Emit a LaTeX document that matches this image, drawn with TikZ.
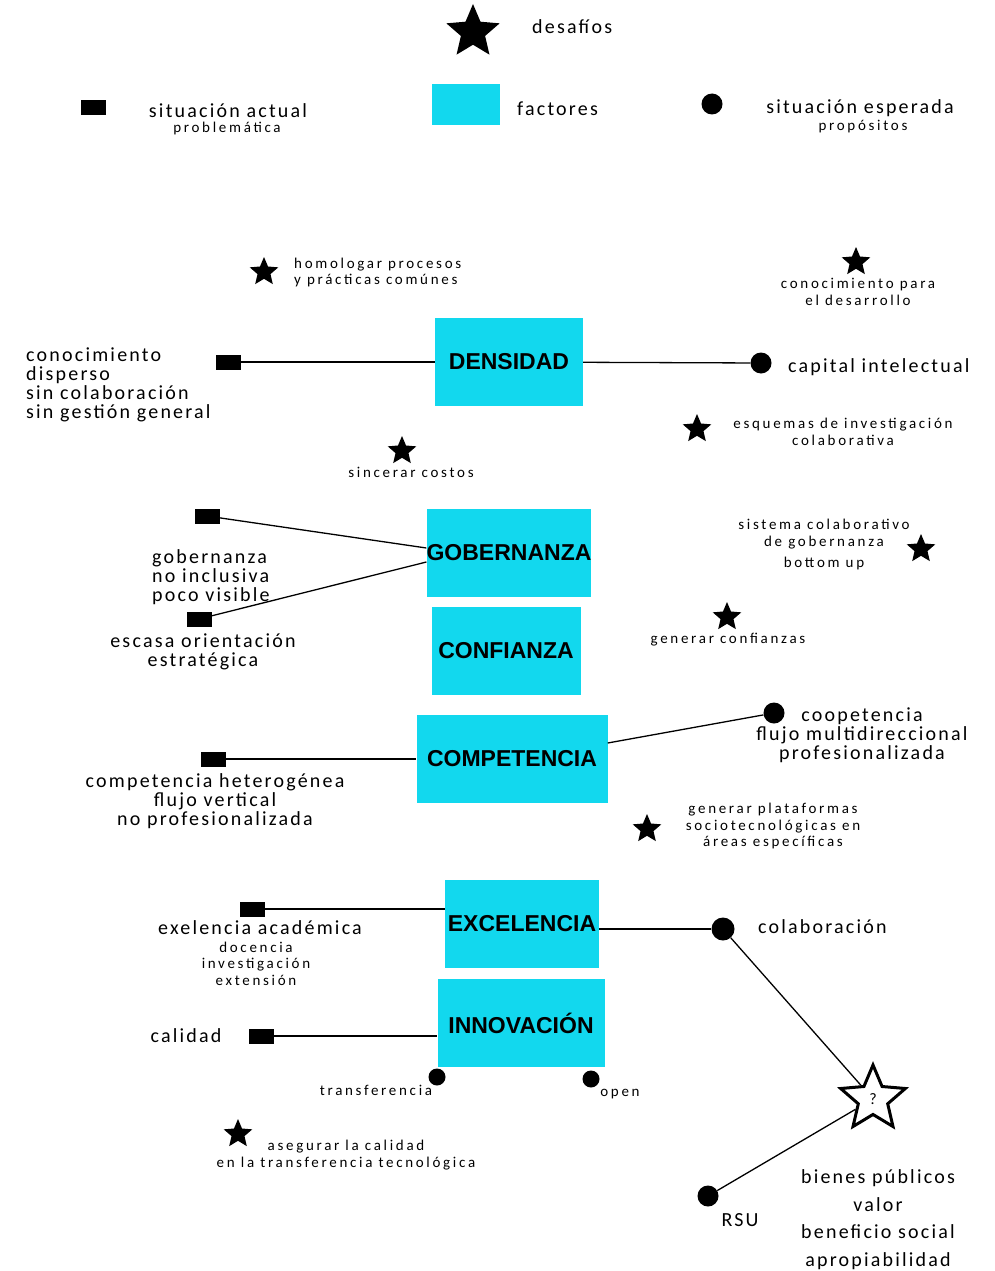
\documentclass[tikz,border=0pt]{standalone}
\usepackage{fontspec}
\setmainfont{Carlito}[LetterSpace=11]
\newfontfamily\factorfont{Liberation Sans}
\usetikzlibrary{shapes.geometric}
\definecolor{factorcyan}{RGB}{18,216,238}

\tikzset{
  factor/.style={fill=factorcyan, minimum height=88, inner sep=0,
    font=\factorfont\bfseries\fontsize{23}{23}\selectfont},
  actual/.style={fill=black, minimum width=25, minimum height=15, inner sep=0},
  esperada/.style={circle, fill=black, minimum size=21, inner sep=0},
  desafio/.style={star, star points=5, star point ratio=2.2, fill=black,
    minimum size=30, inner sep=0},
  big/.style={inner sep=0, font=\fontsize{20}{19}\selectfont},
  small/.style={inner sep=0, font=\fontsize{15}{16.5}\selectfont\addfontfeature{LetterSpace=18}},
  conn/.style={line width=1.3pt}
}

\begin{document}
\begin{tikzpicture}[x=1pt,y=-1pt]
  \useasboundingbox[fill=white] (0,0) rectangle (994,1271);

  % legend
  \node[desafio, minimum size=56] (lgStar) at (473,32) {};
  \node[big, anchor=west] (lgStarTxt) at (532,27) {desafíos};
  \node[actual] (lgSq) at (93,108) {};
  \node[big] (lgSqTxt) at (228,111) {situación actual};
  \node[small] (lgSqSub) at (227,129) {problemática};
  \node[fill=factorcyan, minimum width=68, minimum height=41, inner sep=0] (lgBox) at (466,105) {};
  \node[big, anchor=west] (lgBoxTxt) at (517,109) {factores};
  \node[esperada] (lgDot) at (712,104) {};
  \node[big] (lgDotTxt) at (860,108) {situación esperada};
  \node[small] (lgDotSub) at (863,127) {propósitos};

  % densidad
  \node[factor, minimum width=148] (dens) at (509,362) {DENSIDAD};
  \node[actual] (sqDens) at (228,362) {};
  \node[big, align=left, anchor=west] (txDens) at (26,384.5)
    {conocimiento\\disperso\\sin colaboración\\sin gestión general};
  \node[esperada] (dotDens) at (761,363) {};
  \node[big, anchor=west] (txCapital) at (788,367) {capital intelectual};
  \draw[conn] (sqDens) -- (dens);
  \draw[conn] (dens) -- (dotDens);
  \node[desafio] (stHomol) at (264,272) {};
  \node[small, align=left, anchor=west] (txHomol) at (294,272.5)
    {homologar procesos\\y prácticas comúnes};
  \node[desafio] (stConoc) at (856,262) {};
  \node[small, align=center] (txConoc) at (858,292) {conocimiento para\\el desarrollo};
  \node[desafio] (stEsq) at (697,429) {};
  \node[small, align=center] (txEsq) at (843,432)
    {esquemas de investigación\\colaborativa};
  \node[desafio] (stSinc) at (402,451) {};
  \node[small] (txSinc) at (411,472) {sincerar costos};

  % gobernanza
  \node[factor, minimum width=164] (gob) at (509,553) {GOBERNANZA};
  \node[actual] (sqGobA) at (207,516) {};
  \node[actual] (sqGobB) at (199,619) {};
  \draw[conn] (sqGobA) -- ([yshift=5pt]gob.west);
  \draw[conn] (sqGobB) -- ([yshift=-9pt]gob.west);
  \node[big, align=left, anchor=west] (txGob) at (152,577)
    {gobernanza\\no inclusiva\\poco visible};
  \node[big, align=center] (txEscasa) at (203,652) {escasa orientación\\estratégica};
  \node[small, align=center] (txSist) at (824,544.5)
    {sistema colaborativo\\de gobernanza\\[5pt]bottom up};
  \node[desafio] (stSist) at (921,549) {};
  \node[desafio] (stConf) at (727,617) {};
  \node[small] (txConf) at (728,640) {generar confianzas};

  % confianza
  \node[factor, minimum width=149] (conf) at (506,651) {CONFIANZA};

  % competencia
  \node[factor, minimum width=191] (comp) at (512,759) {COMPETENCIA};
  \node[actual] (sqComp) at (213,759) {};
  \draw[conn] (sqComp) -- (comp);
  \node[big, align=center] (txComp) at (215,801)
    {competencia heterogénea\\flujo vertical\\no profesionalizada};
  \node[esperada] (dotComp) at (774,713) {};
  \draw[conn] ([yshift=16pt]comp.east) -- (dotComp);
  \node[big, align=center] (txCoop) at (862,735)
    {coopetencia\\flujo multidireccional\\profesionalizada};
  \node[desafio] (stPlat) at (647,829) {};
  \node[small, align=center] (txPlat) at (773,826)
    {generar plataformas\\sociotecnológicas en\\áreas específicas};

  % excelencia
  \node[factor, minimum width=154] (exc) at (522,924) {EXCELENCIA};
  \node[actual] (sqExc) at (252,909) {};
  \draw[conn] (sqExc) -- ([yshift=15pt]exc.west);
  \node[big] (txExc) at (260,928) {exelencia académica};
  \node[small, align=center] (txDoc) at (256,963.5)
    {docencia\\investigación\\extensión};
  \node[esperada, minimum size=23] (dotExc) at (723,929) {};
  \draw[conn] ([yshift=-5pt]exc.east) -- (dotExc);
  \node[big, anchor=west] (txColab) at (758,927) {colaboración};

  % innovacion
  \node[factor, minimum width=167] (inn) at (521,1023) {INNOVACIÓN};
  \node[big] (txCal) at (186,1036) {calidad};
  \node[actual] (sqInn) at (261,1036) {};
  \draw[conn] (sqInn) -- ([yshift=-13pt]inn.west);
  \node[esperada, minimum size=17] (dotTrans) at (437,1077) {};
  \node[small] (txTrans) at (376,1090) {transferencia};
  \node[esperada, minimum size=17] (dotOpen) at (591,1079) {};
  \node[small] (txOpen) at (620,1094) {open};
  \node[desafio] (stAseg) at (238,1134) {};
  \node[small, align=center] (txAseg) at (346,1155)
    {asegurar la calidad\\en la transferencia tecnológica};

  % valor
  \node[star, star points=5, star point ratio=2.2, draw, line width=3pt, fill=white,
    minimum size=68, inner sep=0, font=\fontsize{16}{16}\selectfont] (bigStar) at (873,1099) {?};
  \draw[conn] (dotExc) -- (bigStar);
  \node[esperada] (dotRSU) at (708,1196) {};
  \draw[conn] (bigStar) -- (dotRSU);
  \node[big] (txRSU) at (740,1220) {RSU};
  \node[align=center, inner sep=0, font=\fontsize{20}{27.5}\selectfont] (txBienes) at (878,1219.5)
    {bienes públicos\\valor\\beneficio social\\apropiabilidad};
\end{tikzpicture}
\end{document}
